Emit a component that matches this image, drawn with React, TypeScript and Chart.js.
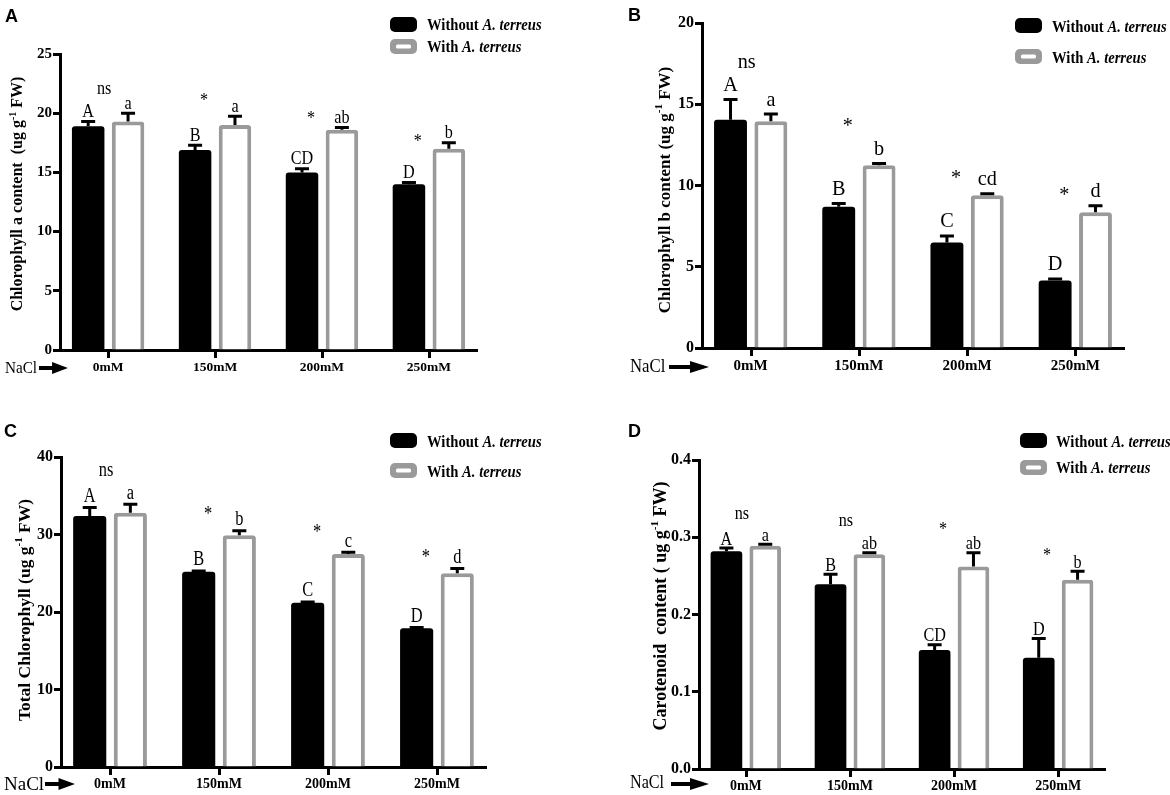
import { useEffect, useRef } from 'react';
import { Chart, registerables } from 'chart.js';

Chart.register(...registerables);

const SERIF = '"Liberation Serif", "Times New Roman", serif';
const SANS = '"Liberation Sans", Arial, sans-serif';

const categories = ['0mM', '150mM', '200mM', '250mM'];
const seriesLabels = ['Without', 'With'];

// A - chlorophyll a
const chlAWithout = [18.9, 16.9, 15.0, 14.0];
const chlAWithoutErr = [0.4, 0.4, 0.3, 0.15];
const chlAWith = [19.3, 19.0, 18.6, 17.0];
const chlAWithErr = [0.7, 0.75, 0.2, 0.5];
const chlALettersWithout = ['A', 'B', 'CD', 'D'];
const chlALettersWith = ['a', 'a', 'ab', 'b'];
const chlASig = ['ns', '*', '*', '*'];
const chlASigY = [22.0, 21.4, 19.8, 17.9];

// B - chlorophyll b
const chlBWithout = [14.05, 8.7, 6.5, 4.15];
const chlBWithoutErr = [1.25, 0.2, 0.4, 0.1];
const chlBWith = [13.95, 11.25, 9.4, 8.35];
const chlBWithErr = [0.45, 0.1, 0.1, 0.4];
const chlBLettersWithout = ['A', 'B', 'C', 'D'];
const chlBLettersWith = ['a', 'b', 'cd', 'd'];
const chlBSig = ['ns', '*', '*', '*'];
const chlBSigY = [17.55, 13.9, 10.7, 9.7];

// C - total chlorophyll
const totWithout = [32.4, 25.2, 21.2, 17.9];
const totWithoutErr = [1.1, 0.1, 0.1, 0.1];
const totWith = [32.8, 29.9, 27.5, 25.0];
const totWithErr = [1.1, 0.6, 0.2, 0.6];
const totLettersWithout = ['A', 'B', 'C', 'D'];
const totLettersWith = ['a', 'b', 'c', 'd'];
const totSig = ['ns', '*', '*', '*'];
const totSigY = [38.15, 33.1, 30.75, 27.6];

// D - carotenoid
const carWithout = [0.282, 0.239, 0.154, 0.144];
const carWithoutErr = [0.004, 0.013, 0.007, 0.025];
const carWith = [0.289, 0.278, 0.262, 0.245];
const carWithErr = [0.002, 0.002, 0.018, 0.011];
const carLettersWithout = ['A', 'B', 'CD', 'D'];
const carLettersWith = ['a', 'ab', 'ab', 'b'];
const carSig = ['ns', 'ns', '*', '*'];
const carSigY = [0.329, 0.32, 0.3146, 0.281];

type Box = { left: number; top: number; width: number; height: number };
type Plot = { l: number; t: number; r: number; b: number };

type PanelDef = {
  id: string;
  box: Box;
  plot: Plot;
  yMax: number;
  yStep: number;
  decimals: number;
  yTickSize: number;
  xTickSize: number;
  without: number[];
  withoutErr: number[];
  withV: number[];
  withErr: number[];
  lettersWithout: string[];
  lettersWith: string[];
  sig: string[];
  sigY: number[];
  letterSize: number;
  letterSx: number;
  letterGap: number;
  titleMain: string;
  titleEnd: string;
  titleSize: number;
  titleX: number;
  titleY: number;
  legend: { sx: number; tx: number; y1: number; y2: number; b1: number; b2: number };
  tag: { x: number; y: number };
  nacl: { x: number; y: number; size: number; sx: number; a0: number; a1: number; ay: number };
};

const panels: PanelDef[] = [
  {
    id: 'A',
    box: { left: 0, top: 0, width: 585, height: 400 },
    plot: { l: 60, t: 54, r: 477, b: 350 },
    yMax: 25, yStep: 5, decimals: 0, yTickSize: 15, xTickSize: 13.5,
    without: chlAWithout, withoutErr: chlAWithoutErr, withV: chlAWith, withErr: chlAWithErr,
    lettersWithout: chlALettersWithout, lettersWith: chlALettersWith, sig: chlASig, sigY: chlASigY,
    letterSize: 19, letterSx: 0.85, letterGap: 3,
    titleMain: 'Chlorophyll a content  (ug g', titleEnd: ' FW)', titleSize: 16, titleX: 17, titleY: 194,
    legend: { sx: 390, tx: 427, y1: 17, y2: 39, b1: 30, b2: 52 },
    tag: { x: 5, y: 22 },
    nacl: { x: 5, y: 373, size: 16, sx: 0.95, a0: 39, a1: 68, ay: 368 },
  },
  {
    id: 'B',
    box: { left: 585, top: 0, width: 585, height: 400 },
    plot: { l: 702, t: 23, r: 1124, b: 348 },
    yMax: 20, yStep: 5, decimals: 0, yTickSize: 16, xTickSize: 15,
    without: chlBWithout, withoutErr: chlBWithoutErr, withV: chlBWith, withErr: chlBWithErr,
    lettersWithout: chlBLettersWithout, lettersWith: chlBLettersWith, sig: chlBSig, sigY: chlBSigY,
    letterSize: 22, letterSx: 0.92, letterGap: 7,
    titleMain: 'Chlorophyll b content (ug g', titleEnd: ' FW)', titleSize: 17, titleX: 664, titleY: 190,
    legend: { sx: 1015, tx: 1052, y1: 18, y2: 49, b1: 32, b2: 63 },
    tag: { x: 628, y: 21 },
    nacl: { x: 630, y: 372, size: 19, sx: 0.88, a0: 669, a1: 709, ay: 367 },
  },
  {
    id: 'C',
    box: { left: 0, top: 400, width: 585, height: 395 },
    plot: { l: 61, t: 457, r: 486, b: 767 },
    yMax: 40, yStep: 10, decimals: 0, yTickSize: 16, xTickSize: 14,
    without: totWithout, withoutErr: totWithoutErr, withV: totWith, withErr: totWithErr,
    lettersWithout: totLettersWithout, lettersWith: totLettersWith, sig: totSig, sigY: totSigY,
    letterSize: 20, letterSx: 0.82, letterGap: 4,
    titleMain: 'Total Chlorophyll (ug g', titleEnd: ' FW)', titleSize: 17.5, titleX: 24, titleY: 610,
    legend: { sx: 390, tx: 427, y1: 433, y2: 463, b1: 447, b2: 477 },
    tag: { x: 4, y: 437 },
    nacl: { x: 4, y: 790, size: 19, sx: 1.0, a0: 45, a1: 75, ay: 784 },
  },
  {
    id: 'D',
    box: { left: 585, top: 400, width: 585, height: 395 },
    plot: { l: 699, t: 460, r: 1105, b: 769 },
    yMax: 0.4, yStep: 0.1, decimals: 1, yTickSize: 16, xTickSize: 14,
    without: carWithout, withoutErr: carWithoutErr, withV: carWith, withErr: carWithErr,
    lettersWithout: carLettersWithout, lettersWith: carLettersWith, sig: carSig, sigY: carSigY,
    letterSize: 19, letterSx: 0.85, letterGap: 2,
    titleMain: 'Carotenoid  content ( ug g', titleEnd: ' FW)', titleSize: 18, titleX: 660, titleY: 606,
    legend: { sx: 1020, tx: 1056, y1: 433, y2: 460, b1: 447, b2: 473 },
    tag: { x: 628, y: 437 },
    nacl: { x: 630, y: 788, size: 19, sx: 0.85, a0: 671, a1: 709, ay: 784 },
  },
];

function drawText(
  ctx: CanvasRenderingContext2D,
  text: string,
  x: number,
  y: number,
  font: string,
  sx: number,
  align: CanvasTextAlign,
) {
  ctx.save();
  ctx.font = font;
  ctx.fillStyle = '#000';
  ctx.textAlign = align;
  ctx.textBaseline = 'alphabetic';
  ctx.translate(x, y);
  ctx.scale(sx, 1);
  ctx.fillText(text, 0, 0);
  ctx.restore();
}

function drawArrow(ctx: CanvasRenderingContext2D, x0: number, x1: number, y: number) {
  const head = Math.min(19, (x1 - x0) * 0.55);
  ctx.save();
  ctx.fillStyle = '#000';
  ctx.fillRect(x0, y - 2, x1 - x0 - head + 1, 4);
  ctx.beginPath();
  ctx.moveTo(x1 - head, y - 6);
  ctx.lineTo(x1, y);
  ctx.lineTo(x1 - head, y + 6);
  ctx.closePath();
  ctx.fill();
  ctx.restore();
}

function overlay(p: PanelDef) {
  const ox = p.box.left;
  const oy = p.box.top;
  return {
    id: 'overlay' + p.id,
    afterDatasetsDraw(chart: Chart) {
      const ctx = chart.ctx;
      const ys = chart.scales.y;
      const xs = chart.scales.x;
      const groups: [number[], number[], string[]][] = [
        [p.without, p.withoutErr, p.lettersWithout],
        [p.withV, p.withErr, p.lettersWith],
      ];
      groups.forEach(([vals, errs, letters], di) => {
        const meta = chart.getDatasetMeta(di);
        meta.data.forEach((bar: any, j: number) => {
          const top = ys.getPixelForValue(vals[j] + errs[j]);
          ctx.save();
          ctx.strokeStyle = '#000';
          ctx.lineWidth = 3;
          ctx.beginPath();
          ctx.moveTo(bar.x, bar.y);
          ctx.lineTo(bar.x, top);
          ctx.moveTo(bar.x - 7, top);
          ctx.lineTo(bar.x + 7, top);
          ctx.stroke();
          ctx.restore();
          drawText(ctx, letters[j], bar.x, top - 1.5 - p.letterGap, `${p.letterSize}px ${SERIF}`, p.letterSx, 'center');
        });
      });
      p.sig.forEach((s, j) => {
        const cx = xs.getPixelForValue(j) + (s === '*' ? -11 : -4);
        const cy = ys.getPixelForValue(p.sigY[j]);
        const base = cy + p.letterSize * (s === '*' ? 0.47 : 0.23);
        drawText(ctx, s, cx, base, `${p.letterSize}px ${SERIF}`, p.letterSx, 'center');
      });
    },
    afterDraw(chart: Chart) {
      const ctx = chart.ctx;
      const xs = chart.scales.x;
      const area = chart.chartArea;

      // category tick marks under the x axis
      ctx.save();
      ctx.strokeStyle = '#000';
      ctx.lineWidth = 3;
      ctx.beginPath();
      categories.forEach((_, i) => {
        const tx = Math.round(xs.getPixelForValue(i)) + 0.5;
        ctx.moveTo(tx, area.bottom);
        ctx.lineTo(tx, area.bottom + 8);
      });
      ctx.stroke();
      ctx.restore();

      // panel tag
      drawText(ctx, p.id, p.tag.x - ox, p.tag.y - oy, `bold 18px ${SANS}`, 1, 'left');

      // y title with superscript
      ctx.save();
      ctx.translate(p.titleX - ox, p.titleY - oy);
      ctx.rotate(-Math.PI / 2);
      const big = `bold ${p.titleSize}px ${SERIF}`;
      const small = `bold ${Math.round(p.titleSize * 0.62)}px ${SERIF}`;
      ctx.font = big;
      const w1 = ctx.measureText(p.titleMain).width;
      const w3 = ctx.measureText(p.titleEnd).width;
      ctx.font = small;
      const w2 = ctx.measureText('-1').width;
      const total = w1 + w2 + w3;
      const base = p.titleSize * 0.33;
      ctx.fillStyle = '#000';
      ctx.textBaseline = 'alphabetic';
      ctx.textAlign = 'left';
      ctx.font = big;
      ctx.fillText(p.titleMain, -total / 2, base);
      ctx.font = small;
      ctx.fillText('-1', -total / 2 + w1, base - p.titleSize * 0.42);
      ctx.font = big;
      ctx.fillText(p.titleEnd, -total / 2 + w1 + w2, base);
      ctx.restore();

      // legend
      const L = p.legend;
      const sw = 27;
      const sh = 15;
      ctx.save();
      ctx.fillStyle = '#000';
      ctx.beginPath();
      ctx.roundRect(L.sx - ox, L.y1 - oy, sw, sh, 5);
      ctx.fill();
      ctx.fillStyle = '#9a9a9a';
      ctx.beginPath();
      ctx.roundRect(L.sx - ox, L.y2 - oy, sw, sh, 5);
      ctx.fill();
      ctx.fillStyle = '#fff';
      ctx.beginPath();
      ctx.roundRect(L.sx - ox + 6, L.y2 - oy + 5.5, sw - 12, sh - 11, 1.5);
      ctx.fill();
      ctx.restore();
      const rows: [string, number][] = [
        [seriesLabels[0] + ' ', L.b1],
        [seriesLabels[1] + ' ', L.b2],
      ];
      rows.forEach(([lead, b]) => {
        ctx.save();
        ctx.translate(L.tx - ox, b - oy);
        ctx.scale(0.86, 1);
        ctx.fillStyle = '#000';
        ctx.textAlign = 'left';
        ctx.textBaseline = 'alphabetic';
        ctx.font = `bold 17px ${SERIF}`;
        ctx.fillText(lead, 0, 0);
        const lw = ctx.measureText(lead).width;
        ctx.font = `italic bold 17px ${SERIF}`;
        ctx.fillText('A. terreus', lw, 0);
        ctx.restore();
      });

      // NaCl arrow
      const n = p.nacl;
      drawText(ctx, 'NaCl', n.x - ox, n.y - oy, `${n.size}px ${SERIF}`, n.sx, 'left');
      drawArrow(ctx, n.a0 - ox, n.a1 - ox, n.ay - oy);
    },
  };
}

function Panel({ p }: { p: PanelDef }) {
  const canvasRef = useRef<HTMLCanvasElement>(null);

  useEffect(() => {
    const canvas = canvasRef.current;
    if (!canvas) return;
    const tickFont = (size: number) => ({ family: SERIF, size, weight: 'bold' as const });
    const edge = 0.45;
    const chart = new Chart(canvas, {
      type: 'bar',
      data: {
        datasets: [
          {
            label: seriesLabels[0],
            data: p.without.map((v, i) => ({ x: i, y: v })),
            backgroundColor: '#000',
            borderWidth: 0,
            borderRadius: 3,
            categoryPercentage: 0.746,
            barPercentage: 0.815,
          },
          {
            label: seriesLabels[1],
            data: p.withV.map((v, i) => ({ x: i, y: v })),
            backgroundColor: '#fff',
            borderColor: '#9a9a9a',
            borderWidth: 4,
            borderRadius: 3,
            categoryPercentage: 0.746,
            barPercentage: 0.815,
          },
        ],
      },
      options: {
        animation: false,
        responsive: false,
        events: [],
        layout: {
          padding: {
            left: 0,
            top: p.plot.t - p.box.top,
            right: p.box.left + p.box.width - p.plot.r,
            bottom: 0,
          },
        },
        plugins: {
          legend: { display: false },
          tooltip: { enabled: false },
        },
        scales: {
          x: {
            type: 'linear',
            offset: false,
            min: -edge,
            max: categories.length - 1 + edge,
            afterBuildTicks: (s: any) => {
              s.ticks = categories.map((_, i) => ({ value: i }));
            },
            ticks: {
              font: tickFont(p.xTickSize),
              color: '#000',
              padding: 9,
              autoSkip: false,
              maxRotation: 0,
              callback: (v: any) => categories[Math.round(Number(v))] ?? '',
            },
            grid: {
              offset: false,
              drawOnChartArea: false,
              drawTicks: false,
            },
            border: { display: true, color: '#000', width: 3 },
            afterFit: (s: any) => {
              s.height = p.box.top + p.box.height - p.plot.b;
            },
          },
          y: {
            min: 0,
            max: p.yMax,
            ticks: {
              stepSize: p.yStep,
              font: tickFont(p.yTickSize),
              color: '#000',
              padding: 1,
              callback: (v: any) => Number(v).toFixed(p.decimals),
            },
            grid: {
              drawOnChartArea: false,
              drawTicks: true,
              tickLength: 7,
              tickWidth: 3,
              tickColor: '#000',
            },
            border: { display: true, color: '#000', width: 3 },
            afterFit: (s: any) => {
              s.width = p.plot.l - p.box.left;
            },
          },
        },
      },
      plugins: [overlay(p)],
    });
    return () => {
      chart.destroy();
    };
  }, [p]);

  return (
    <div
      style={{
        position: 'absolute',
        left: p.box.left,
        top: p.box.top,
        width: p.box.width,
        height: p.box.height,
      }}
    >
      <canvas ref={canvasRef} width={p.box.width} height={p.box.height} style={{ display: 'block' }} />
    </div>
  );
}

export default function App() {
  return (
    <div style={{ position: 'absolute', left: 0, top: 0, width: 1170, height: 795, background: '#fff' }}>
      {panels.map((p) => (
        <Panel key={p.id} p={p} />
      ))}
    </div>
  );
}
